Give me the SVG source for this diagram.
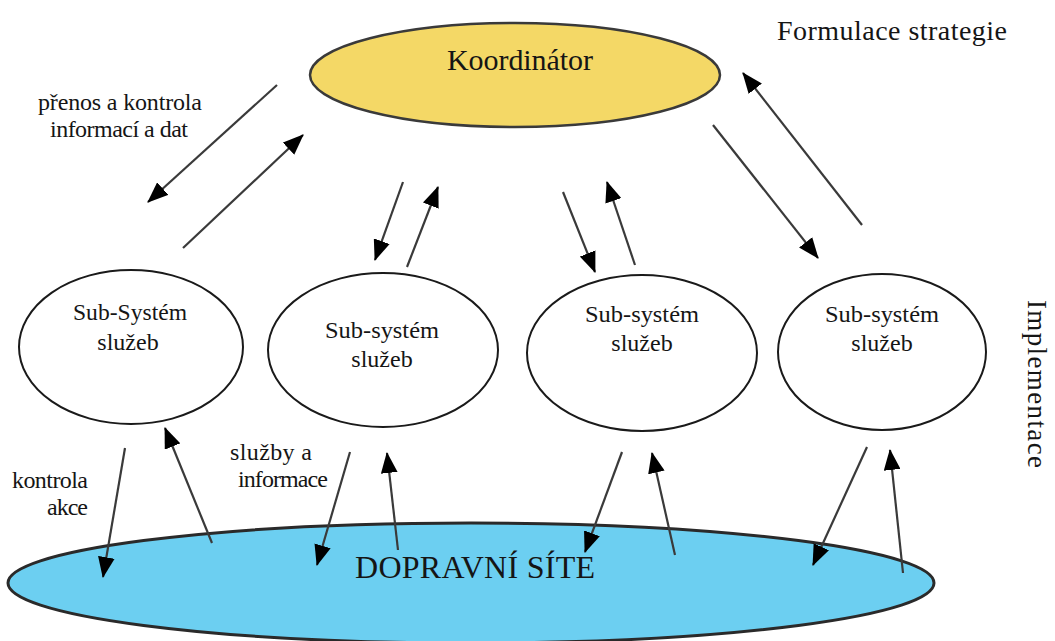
<svg xmlns="http://www.w3.org/2000/svg" width="1055" height="641" viewBox="0 0 1055 641">
<defs>
<marker id="ah" viewBox="0 0 20 16" refX="19" refY="8" markerWidth="21" markerHeight="17" markerUnits="userSpaceOnUse" orient="auto">
<path d="M0,0 L20,8 L0,16 Z" fill="#000"/>
</marker>
</defs>
<style>
.t{font-family:"Liberation Serif","Times New Roman",serif;fill:#151515;}
.s{font-size:24px;text-anchor:middle;}
.l{font-size:24px;}
.sub{fill:#fff;stroke:#1a1a1a;stroke-width:2;}
.c line{stroke:#3a3a3a;stroke-width:2.2;marker-end:url(#ah);}
</style>
<rect width="1055" height="641" fill="#fff"/>
<g id="site">
<ellipse cx="471" cy="583" rx="463" ry="60" fill="#6CCFF1" stroke="#2a2a2a" stroke-width="3"/>
</g>
<g id="koordinator">
<ellipse cx="515" cy="75" rx="205" ry="52" fill="#F4D866" stroke="#3a3a3a" stroke-width="2.5"/>
<text class="t" x="447" y="70" font-size="30" textLength="146" lengthAdjust="spacing">Koordinátor</text>
</g>
<g id="sub1">
<ellipse class="sub" cx="131" cy="347" rx="112" ry="77"/>
<text class="t s" x="130" y="320" textLength="114" lengthAdjust="spacingAndGlyphs">Sub-Systém</text>
<text class="t s" x="128" y="350">služeb</text>
</g>
<g id="sub2">
<ellipse class="sub" cx="383" cy="350" rx="115" ry="77"/>
<text class="t s" x="382" y="338" textLength="114" lengthAdjust="spacingAndGlyphs">Sub-systém</text>
<text class="t s" x="382" y="367">služeb</text>
</g>
<g id="sub3">
<ellipse class="sub" cx="642" cy="353" rx="115" ry="78"/>
<text class="t s" x="642" y="322" textLength="114" lengthAdjust="spacingAndGlyphs">Sub-systém</text>
<text class="t s" x="642" y="351">služeb</text>
</g>
<g id="sub4">
<ellipse class="sub" cx="882" cy="352" rx="104" ry="78"/>
<text class="t s" x="882" y="322" textLength="114" lengthAdjust="spacingAndGlyphs">Sub-systém</text>
<text class="t s" x="882" y="351">služeb</text>
</g>
<g id="connectors" class="c">
<line x1="277" y1="85" x2="148" y2="202"/>
<line x1="183" y1="248" x2="303" y2="135"/>
<line x1="403" y1="182" x2="375" y2="260"/>
<line x1="407" y1="267" x2="438" y2="187"/>
<line x1="563" y1="192" x2="595" y2="272"/>
<line x1="635" y1="265" x2="607" y2="182"/>
<line x1="713" y1="125" x2="818" y2="258"/>
<line x1="862" y1="225" x2="743" y2="73"/>
<line x1="125" y1="448" x2="103" y2="577"/>
<line x1="212" y1="543" x2="165" y2="428"/>
<line x1="350" y1="452" x2="317" y2="565"/>
<line x1="398" y1="550" x2="387" y2="453"/>
<line x1="622" y1="452" x2="585" y2="552"/>
<line x1="675" y1="555" x2="652" y2="453"/>
<line x1="867" y1="447" x2="813" y2="565"/>
<line x1="903" y1="573" x2="890" y2="450"/>
</g>
<g id="labels">
<text class="t" x="355" y="578" font-size="32" textLength="240" lengthAdjust="spacing">DOPRAVNÍ SÍTE</text>
<text class="t" x="777" y="40" font-size="28" textLength="230" lengthAdjust="spacing">Formulace strategie</text>
<text class="t" transform="translate(1028,300) rotate(90)" x="0" y="0" font-size="27" textLength="168" lengthAdjust="spacing">Implementace</text>
<text class="t l" x="38" y="110" textLength="164" lengthAdjust="spacing">přenos a kontrola</text>
<text class="t l" x="50" y="137" textLength="138" lengthAdjust="spacing">informací a dat</text>
<text class="t l" x="12" y="488" textLength="76" lengthAdjust="spacing">kontrola</text>
<text class="t l" x="47" y="515" textLength="41" lengthAdjust="spacing">akce</text>
<text class="t l" x="230" y="460" textLength="82" lengthAdjust="spacing">služby a</text>
<text class="t l" x="238" y="487" textLength="90" lengthAdjust="spacing">informace</text>
</g>
</svg>
